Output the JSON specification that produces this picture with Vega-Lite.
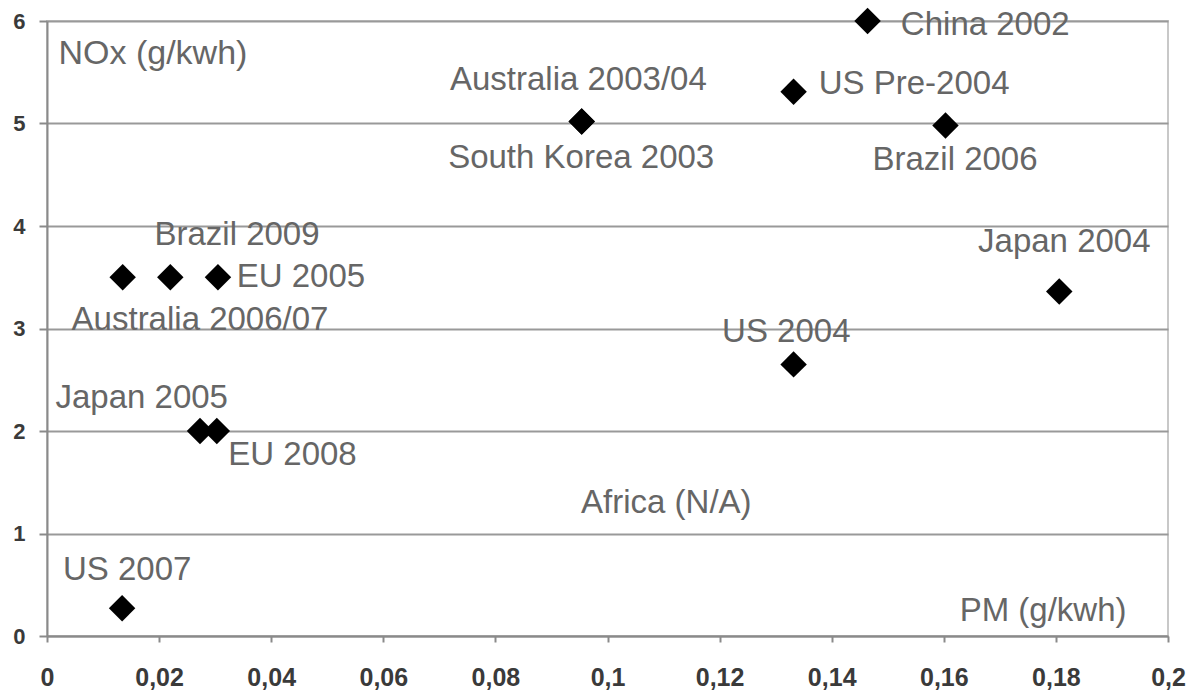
{
  "$schema": "https://vega.github.io/schema/vega-lite/v6.json",
  "autosize": {"type": "none"},
  "width": 1121,
  "height": 615,
  "padding": {"left": 47, "top": 21, "right": 31, "bottom": 58},
  "background": "white",
  "config": {
    "view": {"stroke": "#c8c8c8", "strokeWidth": 2},
    "font": "Liberation Sans"
  },
  "data": {
    "values": [
      {"name": "US 2007", "pm": 0.0134, "nox": 0.27, "lx": 0.0143, "ly": 0.64},
      {"name": "Australia 2006/07", "pm": 0.0135, "nox": 3.5, "lx": 0.0273, "ly": 3.08},
      {"name": "Brazil 2009", "pm": 0.022, "nox": 3.5, "lx": 0.0339, "ly": 3.91},
      {"name": "EU 2005", "pm": 0.0305, "nox": 3.5, "lx": 0.0453, "ly": 3.5},
      {"name": "Japan 2005", "pm": 0.0273, "nox": 2.0, "lx": 0.0169, "ly": 2.32},
      {"name": "EU 2008", "pm": 0.0303, "nox": 2.0, "lx": 0.0438, "ly": 1.77},
      {"name": "Australia 2003/04", "pm": 0.0954, "nox": 5.02, "lx": 0.0948, "ly": 5.42},
      {"name": "South Korea 2003", "pm": 0.0954, "nox": 5.02, "lx": 0.0953, "ly": 4.66},
      {"name": "US Pre-2004", "pm": 0.1332, "nox": 5.31, "lx": 0.1547, "ly": 5.385},
      {"name": "China 2002", "pm": 0.1464, "nox": 6.0, "lx": 0.1674, "ly": 5.96},
      {"name": "Brazil 2006", "pm": 0.1603, "nox": 4.98, "lx": 0.162, "ly": 4.64},
      {"name": "Japan 2004", "pm": 0.1806, "nox": 3.36, "lx": 0.1815, "ly": 3.84},
      {"name": "US 2004", "pm": 0.1332, "nox": 2.65, "lx": 0.1319, "ly": 2.97},
      {"name": "Africa (N/A)", "pm": null, "nox": null, "lx": 0.1105, "ly": 1.3}
    ]
  },
  "layer": [
    {
      "mark": {"type": "text", "fontSize": 33, "color": "#666666", "align": "center", "baseline": "middle"},
      "encoding": {
        "x": {"field": "lx", "type": "quantitative"},
        "y": {"field": "ly", "type": "quantitative"},
        "text": {"field": "name"}
      }
    },
    {
      "transform": [{"filter": "isValid(datum.pm)"}],
      "mark": {"type": "point", "shape": "diamond", "filled": true, "color": "black", "size": 700, "opacity": 1},
      "encoding": {
        "x": {
          "field": "pm", "type": "quantitative",
          "scale": {"domain": [0, 0.2], "nice": false, "zero": true},
          "axis": {
            "title": "PM (g/kwh)",
            "titleFontSize": 33, "titleFontWeight": "normal", "titleColor": "#666666",
            "titleAlign": "right", "titleBaseline": "middle", "titleAnchor": null,
            "titleX": 1079, "titleY": -26,
            "values": [0, 0.02, 0.04, 0.06, 0.08, 0.1, 0.12, 0.14, 0.16, 0.18, 0.2],
            "labelExpr": "replace(format(datum.value, '.2~f'), '.', ',')",
            "labelFontSize": 25, "labelFontWeight": "bold", "labelColor": "#3a3a3a",
            "labelPadding": 23, "labelFlush": false,
            "grid": false,
            "domainColor": "#8a8a8a", "domainWidth": 2,
            "tickColor": "#8a8a8a", "tickWidth": 2, "tickSize": 6
          }
        },
        "y": {
          "field": "nox", "type": "quantitative",
          "scale": {"domain": [0, 6], "nice": false},
          "axis": {
            "title": "NOx (g/kwh)",
            "titleFontSize": 34, "titleFontWeight": "normal", "titleColor": "#666666",
            "titleAngle": 0, "titleAlign": "left", "titleBaseline": "middle", "titleAnchor": null,
            "titleX": 11, "titleY": 32,
            "values": [0, 1, 2, 3, 4, 5, 6],
            "format": "d",
            "labelFontSize": 22, "labelFontWeight": "bold", "labelColor": "#3a3a3a",
            "labelPadding": 14,
            "grid": true, "gridColor": "#999999", "gridWidth": 2,
            "domainColor": "#8a8a8a", "domainWidth": 2,
            "tickColor": "#8a8a8a", "tickWidth": 2, "tickSize": 8
          }
        }
      }
    }
  ]
}
